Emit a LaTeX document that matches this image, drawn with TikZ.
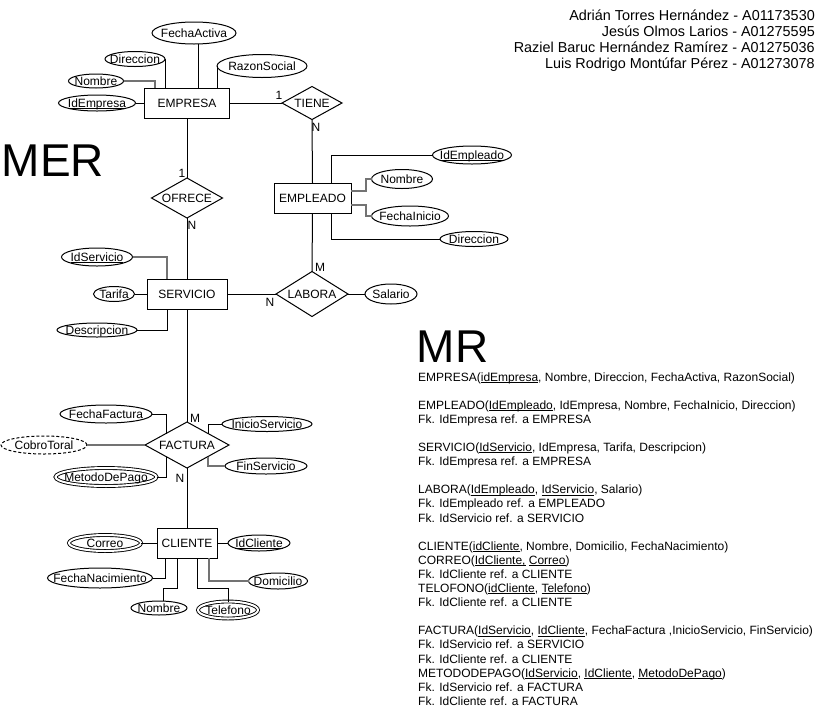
\documentclass[tikz,border=0pt]{standalone}
\usepackage{fontspec}
\setmainfont{Liberation Sans}
\usetikzlibrary{shapes.geometric}
\newcommand{\erlbl}[1]{\smash{\raisebox{-4.3pt}{\makebox[0pt]{#1}}}}
\newsavebox{\erulbox}
\newcommand{\erul}[1]{\sbox{\erulbox}{#1}\rlap{\rule[-1.6pt]{\wd\erulbox}{0.8pt}}\usebox{\erulbox}}
\tikzset{
  basestyle/.style={font=\fontsize{12}{14}\selectfont, inner sep=0pt, outer sep=0pt},
  ent/.style={basestyle, draw, rectangle, line width=1pt},
  attr/.style={basestyle, draw, ellipse, line width=1pt},
  dattr/.style={attr, double, double distance=2pt, line width=0.9pt},
  rel/.style={basestyle, draw, diamond, line width=1pt},
  conn/.style={line width=1pt},
  gconn/.style={line width=1.6pt, draw=black!55},
  card/.style={basestyle},
  mrtxt/.style={font=\fontsize{12}{14}\selectfont, inner sep=0pt, anchor=base west},
  nametxt/.style={font=\fontsize{14.4}{16}\selectfont, inner sep=0pt, anchor=base east},
  bigtxt/.style={font=\fontsize{46}{50}\selectfont, inner sep=0pt, anchor=base west},
}
\begin{document}
\begin{tikzpicture}[x=1pt,y=-1pt]
\useasboundingbox (0,0) rectangle (823,724);
\fill[white] (0,0) rectangle (823,724);

% Names
\node[nametxt] (n1) at (815,20.5) {Adrián Torres Hernández - A01173530};
\node[nametxt] (n2) at (815,36.5) {Jesús Olmos Larios - A01275595};
\node[nametxt] (n3) at (815,52.5) {Raziel Baruc Hernández Ramírez - A01275036};
\node[nametxt] (n4) at (815,68.5) {Luis Rodrigo Montúfar Pérez - A01273078};

\node[bigtxt] (mer) at (1.6,176) {MER};
\node[bigtxt] (mr) at (416.6,362) {MR};

% Entities
\node[ent, minimum width=85pt, minimum height=30pt] (empresa) at (187,103) {\erlbl{EMPRESA}};
\node[ent, minimum width=77pt, minimum height=30pt] (empleado) at (312.5,198) {\erlbl{EMPLEADO}};
\node[ent, minimum width=80pt, minimum height=30pt] (servicio) at (187,294) {\erlbl{SERVICIO}};
\node[ent, minimum width=60pt, minimum height=30pt] (cliente) at (187,543) {\erlbl{CLIENTE}};

% Relationships
\node[rel, minimum width=60pt, minimum height=33pt] (tiene) at (312,103) {\erlbl{TIENE}};
\node[rel, minimum width=71pt, minimum height=40pt] (ofrece) at (187,198) {\erlbl{OFRECE}};
\node[rel, minimum width=72pt, minimum height=45pt] (labora) at (312,294) {\erlbl{LABORA}};
\node[rel, minimum width=84pt, minimum height=46pt] (factura) at (187,445) {\erlbl{FACTURA}};

% EMPRESA attributes
\node[attr, minimum width=77pt, minimum height=16pt] (idEmp) at (97,103) {\erlbl{\erul{IdEmpresa}}};
\node[attr, minimum width=55pt, minimum height=14pt] (nomEmp) at (96,81) {\erlbl{Nombre}};
\node[attr, minimum width=60pt, minimum height=15pt] (dirEmp) at (135,59) {\erlbl{Direccion}};
\node[attr, minimum width=84pt, minimum height=22pt] (fechaAct) at (194,33) {\erlbl{FechaActiva}};
\node[attr, minimum width=90pt, minimum height=23pt] (razon) at (262,66) {\erlbl{RazonSocial}};

% EMPLEADO attributes
\node[attr, minimum width=79pt, minimum height=18pt] (idEmpl) at (472,155) {\erlbl{\erul{IdEmpleado}}};
\node[attr, minimum width=61pt, minimum height=19pt] (nomEmpl) at (402,179) {\erlbl{Nombre}};
\node[attr, minimum width=77pt, minimum height=20pt] (fIni) at (410,216) {\erlbl{FechaInicio}};
\node[attr, minimum width=68pt, minimum height=15pt] (dirEmpl) at (474,239) {\erlbl{Direccion}};

% LABORA attribute
\node[attr, minimum width=52pt, minimum height=20pt] (salario) at (391,294) {\erlbl{Salario}};

% SERVICIO attributes
\node[attr, minimum width=71pt, minimum height=18pt] (idServ) at (97,257) {\erlbl{\erul{IdServicio}}};
\node[attr, minimum width=41pt, minimum height=15pt] (tarifa) at (114,294) {\erlbl{Tarifa}};
\node[attr, minimum width=80pt, minimum height=14pt] (desc) at (97,330) {\erlbl{Descripcion}};

% FACTURA attributes
\node[attr, minimum width=92pt, minimum height=18pt] (fFact) at (106,414) {\erlbl{FechaFactura}};
\node[attr, dash pattern=on 3pt off 2pt, minimum width=86pt, minimum height=18pt] (cobro) at (44,445) {\erlbl{CobroToral}};
\node[dattr, minimum width=101pt, minimum height=18pt] (metodo) at (106,477) {\erlbl{MetodoDePago}};
\node[attr, minimum width=90pt, minimum height=15pt] (inicio) at (267,424) {\erlbl{InicioServicio}};
\node[attr, minimum width=82pt, minimum height=16pt] (fin) at (266,466) {\erlbl{FinServicio}};

% CLIENTE attributes
\node[dattr, minimum width=72pt, minimum height=16pt] (correo) at (105,543) {\erlbl{Correo}};
\node[attr, minimum width=62pt, minimum height=16pt] (idCli) at (259,543) {\erlbl{\erul{IdCliente}}};
\node[attr, minimum width=105pt, minimum height=20pt] (fNac) at (100,578) {\erlbl{FechaNacimiento}};
\node[attr, minimum width=56pt, minimum height=14pt] (nomCli) at (159,608) {\erlbl{Nombre}};
\node[dattr, minimum width=60pt, minimum height=17pt] (tel) at (228,610) {\erlbl{Telefono}};
\node[attr, minimum width=59pt, minimum height=16pt] (dom) at (278,581) {\erlbl{Domicilio}};

% Cardinalities
\node[card] (c1) at (279,95) {\erlbl{1}};
\node[card] (c2) at (316,127) {\erlbl{N}};
\node[card] (c3) at (182,173) {\erlbl{1}};
\node[card] (c4) at (192,225) {\erlbl{N}};
\node[card] (c5) at (320,267) {\erlbl{M}};
\node[card] (c6) at (270,302) {\erlbl{N}};
\node[card] (c7) at (195,418) {\erlbl{M}};
\node[card] (c8) at (180,478) {\erlbl{N}};

% Connectors: EMPRESA
\draw[conn] (idEmp.east) -- (empresa.west);
\draw[gconn] (nomEmp.east) -| ([xshift=-32pt]empresa.north);
\draw[conn] (dirEmp.east) -- (dirEmp.east |- empresa.north);
\draw[conn] ([xshift=4pt]fechaAct.south) -- ([xshift=4pt]fechaAct.south |- empresa.north);
\draw[conn] (razon.west) -- (razon.west |- empresa.north);
\draw[conn] (empresa.east) -- (tiene.west);
\draw[conn] (empresa.south) -- (ofrece.north);
\draw[conn] (ofrece.south) -- (servicio.north);

% EMPLEADO
\draw[conn] (tiene.south) -- (empleado.north);
\draw[conn] ([xshift=19pt]empleado.north) |- (idEmpl.west);
\draw[gconn] ([yshift=7pt]empleado.east) -- ++(15,0) |- (nomEmpl.west);
\draw[gconn] ([yshift=-7pt]empleado.east) -- ++(15,0) |- (fIni.west);
\draw[conn] ([xshift=19pt]empleado.south) |- (dirEmpl.west);
\draw[conn] (empleado.south) -- (labora.north);

% LABORA / SERVICIO
\draw[conn] (servicio.east) -- (labora.west);
\draw[conn] (labora.east) -- (salario.west);
\draw[gconn] (idServ.east) -| ([xshift=-20pt]servicio.north);
\draw[conn] (tarifa.east) -- (servicio.west);
\draw[conn] (desc.east) -| ([xshift=-20pt]servicio.south);
\draw[conn] (servicio.south) -- (factura.north);

% FACTURA
\draw[conn] (fFact.east) -| (factura.north west);
\draw[gconn] (cobro.east) -- (factura.west);
\draw[conn] (metodo.east) -| (factura.south west);
\draw[conn] (factura.north east) |- (inicio.west);
\draw[gconn] (factura.south east) |- (fin.west);
\draw[conn] (factura.south) -- (cliente.north);

% CLIENTE
\draw[conn] (correo.east) -- (cliente.west);
\draw[conn] (cliente.east) -- (idCli.west);
\draw[conn] (fNac.east) -| ([xshift=-22pt]cliente.south);
\draw[conn] ([xshift=-10pt]cliente.south) -- ++(0,30) -| ([xshift=4pt]nomCli.north);
\draw[conn] ([xshift=10pt]cliente.south) -- ++(0,30) -| (tel.north);
\draw[gconn] ([xshift=22pt]cliente.south) |- (dom.west);

% MR text
\foreach \k/\t in {
 0/{EMPRESA(\erul{idEmpresa}, Nombre, Direccion, FechaActiva, RazonSocial)},
 2/{EMPLEADO(\erul{IdEmpleado}, IdEmpresa, Nombre, FechaInicio, Direccion)},
 3/{Fk. IdEmpresa ref. a EMPRESA},
 5/{SERVICIO(\erul{IdServicio}, IdEmpresa, Tarifa, Descripcion)},
 6/{Fk. IdEmpresa ref. a EMPRESA},
 8/{LABORA(\erul{IdEmpleado}, \erul{IdServicio}, Salario)},
 9/{Fk. IdEmpleado ref. a EMPLEADO},
 10/{Fk. IdServicio ref. a SERVICIO},
 12/{CLIENTE(\erul{idCliente}, Nombre, Domicilio, FechaNacimiento)},
 13/{CORREO(\erul{IdCliente,} \erul{Correo})},
 14/{Fk. IdCliente ref. a CLIENTE},
 15/{TELOFONO(\erul{idCliente}, \erul{Telefono})},
 16/{Fk. IdCliente ref. a CLIENTE},
 18/{FACTURA(\erul{IdServicio}, \erul{IdCliente}, FechaFactura ,InicioServicio, FinServicio)},
 19/{Fk. IdServicio ref. a SERVICIO},
 20/{Fk. IdCliente ref. a CLIENTE},
 21/{METODODEPAGO(\erul{IdServicio}, \erul{IdCliente}, \erul{MetodoDePago})},
 22/{Fk. IdServicio ref. a FACTURA},
 23/{Fk. IdCliente ref. a FACTURA}}
{
  \node[mrtxt] (mr\k) at (418,381+14.1*\k) {\t};
}
\end{tikzpicture}
\end{document}
